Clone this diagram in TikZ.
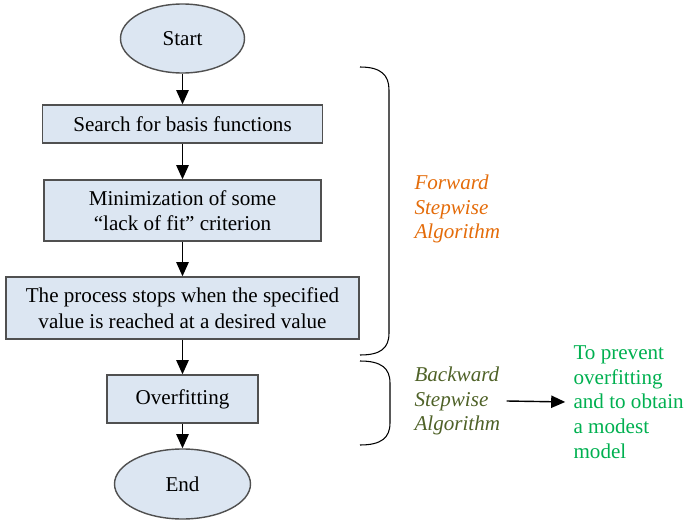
\documentclass[tikz,border=0pt]{standalone}
\usepackage{fontspec}
\setmainfont{Liberation Serif}
\usetikzlibrary{arrows.meta,shapes.geometric}
\definecolor{boxfill}{HTML}{DCE6F2}
\definecolor{boxline}{HTML}{505050}
\definecolor{fwdorange}{HTML}{E46C0A}
\definecolor{bwdolive}{HTML}{4F6228}
\definecolor{aimgreen}{HTML}{00B050}
\begin{document}
\begin{tikzpicture}[>={Triangle[length=8pt,width=7pt]}, line width=0.8pt, font=\fontsize{12}{14.5}\selectfont]
\tikzset{
	terminal/.style={draw=boxline, ellipse, fill=boxfill, inner sep=1pt},
	process/.style={draw=boxline, fill=boxfill, align=center, inner sep=2pt},
	flow/.style={->, draw=black},
	sidetext/.style={anchor=west, align=left, font=\fontsize{12}{14}\selectfont\itshape}
}
\useasboundingbox (0,0) rectangle (13.7,-10.42);

% Main column
\node[terminal, minimum width=2.48cm, minimum height=1.38cm] (start) at (3.65,-0.77) {Start};
\node[process, minimum width=5.6cm, minimum height=0.76cm] (search) at (3.65,-2.48) {Search for basis functions};
\node[process, minimum width=5.54cm, minimum height=1.22cm] (minim) at (3.65,-4.21)
{Minimization of some\\``lack of fit'' criterion};
\node[process, minimum width=7.06cm, minimum height=1.24cm] (stops) at (3.65,-6.16)
{The process stops when the specified\\value is reached at a desired value};
\node[process, minimum width=3.02cm, minimum height=0.96cm] (overfit) at (3.65,-7.98) {Overfitting};
\node[terminal, minimum width=2.72cm, minimum height=1.4cm] (end) at (3.65,-9.68) {End};

\draw[flow] (start.south) -- (search.north);
\draw[flow] (search.south) -- (minim.north);
\draw[flow] (minim.south) -- (stops.north);
\draw[flow] (stops.south) -- (overfit.north);
\draw[flow] (overfit.south) -- (end.north);

% Brackets
\draw[line width=0.6pt] (7.2,-1.34) .. controls (7.62,-1.34) and (7.78,-1.5) .. (7.78,-1.8)
	-- (7.78,-6.66) .. controls (7.78,-6.96) and (7.62,-7.1) .. (7.2,-7.1);
\draw[line width=0.6pt] (7.2,-7.22) .. controls (7.62,-7.22) and (7.8,-7.36) .. (7.8,-7.66)
	-- (7.8,-8.46) .. controls (7.8,-8.76) and (7.62,-8.9) .. (7.2,-8.9);

% Side notes
\node[sidetext, text=fwdorange] (fwd) at (8.16,-4.18) {Forward\\Stepwise\\Algorithm};
\node[sidetext, text=bwdolive] (bwd) at (8.16,-8.02) {Backward\\Stepwise\\Algorithm};
\node[anchor=west, align=left, text=aimgreen, font=\fontsize{12}{14}\selectfont] (aim) at (11.34,-8.04)
{To prevent\\overfitting\\and to obtain\\a modest\\model};
\draw[flow, shorten >=1pt] (bwd.east) -- (aim.west);

\end{tikzpicture}
\end{document}
